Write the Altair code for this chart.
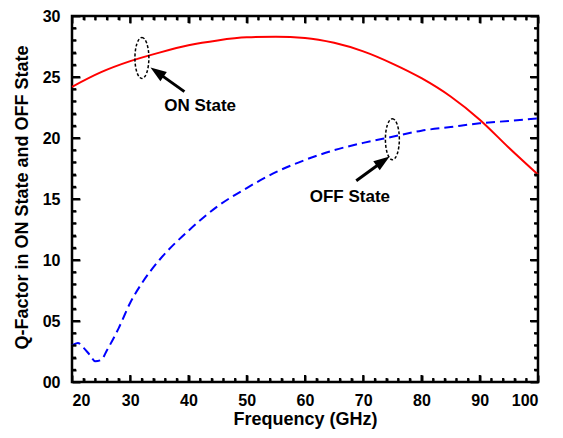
import altair as alt
import pandas as pd

# ---------------- data ----------------
freq_on = [20, 25, 30, 35, 40, 45, 50, 55, 60, 65, 70, 75, 80, 85, 90, 95, 100]
q_on = [24.2, 25.4, 26.3, 27.0, 27.6, 28.0, 28.25, 28.3, 28.2, 27.8, 27.1, 26.1,
        24.9, 23.4, 21.5, 19.2, 17.0]

freq_off = [20, 21, 22, 23, 24, 25, 26, 28, 30, 32, 35, 40, 45, 50, 55, 60, 65,
            70, 75, 80, 85, 90, 95, 100]
q_off = [3.0, 3.2, 2.8, 2.25, 1.7, 1.8, 2.6, 4.4, 6.5, 8.1, 10.0, 12.4, 14.4,
         15.9, 17.2, 18.2, 19.0, 19.6, 20.1, 20.6, 20.9, 21.2, 21.4, 21.6]

x_major = [20, 30, 40, 50, 60, 70, 80, 90, 100]
x_minor = [22, 24, 26, 28, 32, 34, 36, 38, 42, 44, 46, 48, 52, 54, 56, 58,
           62, 64, 66, 68, 72, 74, 76, 78, 82, 84, 86, 88, 92, 94, 96, 98]
y_major = [0, 5, 10, 15, 20, 25, 30]
y_minor = [1, 2, 3, 4, 6, 7, 8, 9, 11, 12, 13, 14, 16, 17, 18, 19,
           21, 22, 23, 24, 26, 27, 28, 29]

ann_labels = ["ON State", "OFF State"]
ann_x = [42.0, 67.7]
ann_y = [22.6, 15.2]
ellipse_x = [32.0, 75.0]
ellipse_y = [26.56, 19.9]
arrow_tail_x = [39.3, 68.8]
arrow_tail_y = [23.8, 16.5]
arrow_head_x = [34.6, 73.4]
arrow_head_y = [25.4, 18.1]
arrow_angle = [305, 55]

W, H = 466, 366

xs = alt.Scale(domain=[20, 100], nice=False, zero=False)
ys = alt.Scale(domain=[0, 30], nice=False, zero=False)

on_df = pd.DataFrame({"f": freq_on, "q": q_on})
off_df = pd.DataFrame({"f": freq_off, "q": q_off})

x_axis = alt.Axis(values=x_major, title="Frequency (GHz)", grid=False,
                  tickSize=7, tickWidth=2, tickColor="black", domain=False,
                  labelPadding=10, titleY=44, titleBaseline="middle",
                  orient="bottom", offset=-7)
y_axis = alt.Axis(values=y_major, format="02d",
                  title="Q-Factor in ON State and OFF State", grid=False,
                  tickSize=8, tickWidth=2, tickColor="black", domain=False,
                  labelPadding=12, titleAngle=270, titleX=-58, titleY=181,
                  titleAlign="center", titleBaseline="middle", orient="left",
                  offset=-8)

on_line = alt.Chart(on_df).mark_line(color="#ff0000", strokeWidth=2,
                                     interpolate="monotone").encode(
    x=alt.X("f:Q", scale=xs, axis=x_axis),
    y=alt.Y("q:Q", scale=ys, axis=y_axis),
)

off_line = alt.Chart(off_df).mark_line(color="#0000ff", strokeWidth=2,
                                       strokeDash=[9, 5],
                                       interpolate="monotone").encode(
    x=alt.X("f:Q", scale=xs, axis=None),
    y=alt.Y("q:Q", scale=ys, axis=None),
)


def tick_axis(vals, length, orient):
    # inward ticks: an axis pulled into the plot by its own tick length
    return alt.Axis(values=vals, orient=orient, offset=-length, tickSize=length,
                    tickWidth=2, tickColor="black", labels=False, domain=False,
                    grid=False, title=None)


def tick_layer(xv, xl, xo, yv, yl, yo):
    return alt.Chart(on_df).mark_point(opacity=0).encode(
        x=alt.X("f:Q", scale=xs, axis=tick_axis(xv, xl, xo)),
        y=alt.Y("q:Q", scale=ys, axis=tick_axis(yv, yl, yo)),
    )


tick_layers = [
    tick_layer(x_minor, 4, "bottom", y_minor, 4, "left"),
    tick_layer(x_major, 7, "top", y_major, 8, "right"),
    tick_layer(x_minor, 4, "top", y_minor, 4, "right"),
]

# the same inward frame ticks also drawn as rule marks (pixel lengths -> data units)
px_y = 30 / H
px_x = 80 / W
rows_x = []
for v in x_major:
    rows_x += [{"a": v, "b": 0, "b2": 7 * px_y}, {"a": v, "b": 30, "b2": 30 - 7 * px_y}]
for v in x_minor:
    rows_x += [{"a": v, "b": 0, "b2": 4 * px_y}, {"a": v, "b": 30, "b2": 30 - 4 * px_y}]
rows_y = []
for v in y_major:
    rows_y += [{"c": v, "e": 20, "e2": 20 + 8 * px_x}, {"c": v, "e": 100, "e2": 100 - 8 * px_x}]
for v in y_minor:
    rows_y += [{"c": v, "e": 20, "e2": 20 + 4 * px_x}, {"c": v, "e": 100, "e2": 100 - 4 * px_x}]

xt = alt.Chart(pd.DataFrame(rows_x)).mark_rule(color="#000000", strokeWidth=2).encode(
    x=alt.X("a:Q", scale=xs, axis=None), y=alt.Y("b:Q", scale=ys, axis=None), y2="b2:Q")
yt = alt.Chart(pd.DataFrame(rows_y)).mark_rule(color="#000000", strokeWidth=2).encode(
    y=alt.Y("c:Q", scale=ys, axis=None), x=alt.X("e:Q", scale=xs, axis=None), x2="e2:Q")

a = 0.34
k = 0.5523 * a
ellipse_path = (f"M0,-1 C{k:.4f},-1 {a},-0.5523 {a},0 C{a},0.5523 {k:.4f},1 0,1 "
                f"C{-k:.4f},1 {-a},0.5523 {-a},0 C{-a},-0.5523 {-k:.4f},-1 0,-1 Z")

ell_df = pd.DataFrame({"x": ellipse_x, "y": ellipse_y})
ellipses = alt.Chart(ell_df).mark_point(shape=ellipse_path, size=1681, filled=False,
                                        stroke="black", strokeWidth=1.5,
                                        strokeDash=[3, 2], opacity=1).encode(
    x=alt.X("x:Q", scale=xs, axis=None), y=alt.Y("y:Q", scale=ys, axis=None))

arr_df = pd.DataFrame({"x": arrow_tail_x, "y": arrow_tail_y,
                       "x2": arrow_head_x, "y2": arrow_head_y,
                       "ang": arrow_angle})
arrow_shafts = alt.Chart(arr_df).mark_rule(color="black", strokeWidth=3).encode(
    x=alt.X("x:Q", scale=xs, axis=None), y=alt.Y("y:Q", scale=ys, axis=None),
    x2="x2:Q", y2="y2:Q")
arrow_heads = alt.Chart(arr_df).mark_point(shape="M0,-1 L0.7,1 L-0.7,1 Z", size=256,
                                           filled=True, color="black",
                                           opacity=1).encode(
    x=alt.X("x2:Q", scale=xs, axis=None), y=alt.Y("y2:Q", scale=ys, axis=None),
    angle=alt.Angle("ang:Q", scale=None))

txt_df = pd.DataFrame({"x": ann_x, "y": ann_y, "t": ann_labels})
texts = alt.Chart(txt_df).mark_text(fontSize=17, fontWeight="bold", color="black",
                                    font="Liberation Sans", align="center",
                                    baseline="middle").encode(
    x=alt.X("x:Q", scale=xs, axis=None), y=alt.Y("y:Q", scale=ys, axis=None),
    text="t:N")

chart = alt.layer(on_line, off_line, *tick_layers, xt, yt, ellipses, arrow_shafts,
                  arrow_heads, texts).resolve_axis(
    x="independent", y="independent"
).properties(
    width=W, height=H,
    autosize=alt.AutoSizeParams(type="none"),
    padding={"left": 64, "top": 8, "right": 17, "bottom": 47},
).configure_view(stroke="black", strokeWidth=2.5).configure_axis(
    labelFont="Liberation Sans", titleFont="Liberation Sans",
    labelFontSize=16, labelFontWeight="bold", labelColor="black",
    titleFontSize=18, titleFontWeight="bold", titleColor="black",
)

chart.save("out.html", embed_options={"renderer": "svg", "actions": False})
